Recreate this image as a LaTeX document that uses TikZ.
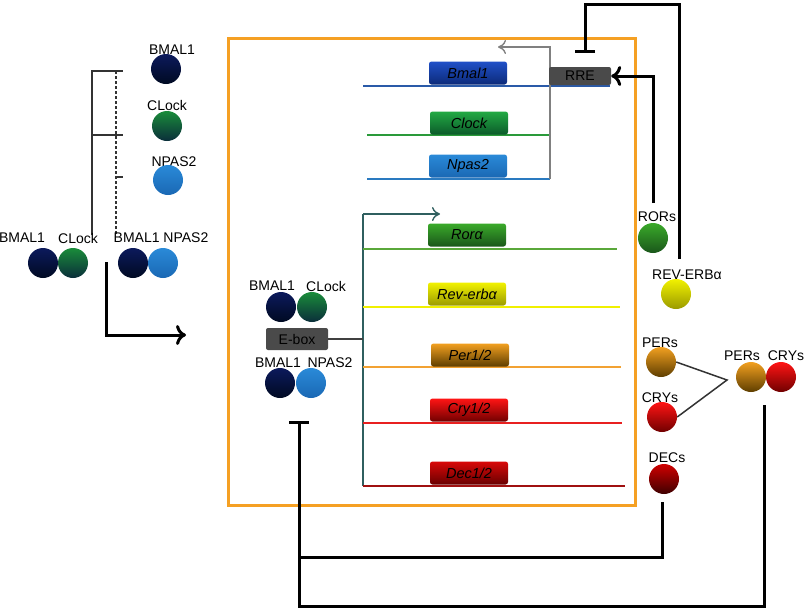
\documentclass[tikz,border=0pt]{standalone}
\usepackage{fontspec}
\setmainfont{Liberation Sans}
\usetikzlibrary{arrows.meta}
\definecolor{boxorange}{HTML}{F5A023}
\definecolor{ebox}{HTML}{4A4A4A}
\definecolor{teal2}{HTML}{2F5F5F}
\definecolor{navyT}{HTML}{0C1A5C}\definecolor{navyB}{HTML}{000A22}
\definecolor{grnT}{HTML}{1A8C3A}\definecolor{grnB}{HTML}{0A2E3A}
\definecolor{bluT}{HTML}{2A8AD8}\definecolor{bluB}{HTML}{1A68B4}
\definecolor{rorT}{HTML}{3AAA2A}\definecolor{rorB}{HTML}{1A561A}
\definecolor{yelT}{HTML}{F2F200}\definecolor{yelB}{HTML}{9A9A00}
\definecolor{perT}{HTML}{F2A020}\definecolor{perB}{HTML}{5E3E00}
\definecolor{cryT}{HTML}{FF1414}\definecolor{cryB}{HTML}{700000}
\definecolor{decT}{HTML}{D00000}\definecolor{decB}{HTML}{3E0000}
\definecolor{gbluT}{HTML}{2050C8}\definecolor{gbluB}{HTML}{0C2A78}
\definecolor{gclkT}{HTML}{22AA44}\definecolor{gclkB}{HTML}{0C5A2A}
\definecolor{gdecT}{HTML}{D80808}\definecolor{gdecB}{HTML}{680000}
\definecolor{lnBmal}{HTML}{2A5AA8}
\definecolor{lnClock}{HTML}{2A9A3A}
\definecolor{lnNpas}{HTML}{2A7AC0}
\definecolor{lnRor}{HTML}{5AA83A}
\definecolor{lnRev}{HTML}{F0F000}
\definecolor{lnPer}{HTML}{F2A232}
\definecolor{lnCry}{HTML}{E82020}
\definecolor{lnDec}{HTML}{A01010}
\tikzset{
  ball/.style={circle, minimum size=30pt, inner sep=0pt},
  lbl/.style={font=\fontsize{14}{14}\selectfont, inner sep=0pt, text=black},
  genebox/.style={rounded corners=2.5pt, minimum width=78pt, minimum height=23pt, inner sep=0pt,
     font=\itshape\fontsize{14.5}{14.5}\selectfont, text=black},
  elembox/.style={rounded corners=2pt, fill=ebox, inner sep=0pt, text=black,
     font=\fontsize{14}{14}\selectfont},
  geneline/.style={line width=2pt},
  thickarrow/.style={line width=3pt, -{To[length=10pt,width=20pt,line width=3pt]}},
  inhib/.style={line width=3pt, -{Bar[width=20pt,line width=3pt]}},
  thick3/.style={line width=3pt},
  grayarrow/.style={line width=1.5pt, gray, -{To[length=8pt,width=14pt,line width=1.4pt]}},
}
\begin{document}
\begin{tikzpicture}[x=1pt,y=-1pt]
\useasboundingbox (0,0) rectangle (811,611);
% orange frame
\draw[boxorange, line width=3pt] (228,38) rectangle (635,505);

% ---- RRE genes ----
\coordinate (bmS) at (363,86); \coordinate (bmE) at (610,86);
\coordinate (clS) at (367,135); \coordinate (clE) at (549,135);
\coordinate (npS) at (367,179); \coordinate (npE) at (550,179);
\draw[geneline, lnBmal] (bmS) -- (bmE);
\draw[geneline, lnClock] (clS) -- (clE);
\draw[geneline, lnNpas] (npS) -- (npE);
\coordinate (rreTip) at (498,47);
\draw[grayarrow] (npE) |- (rreTip);
\node[genebox, top color=gbluT, bottom color=gbluB] (bmal1g) at (468,73) {Bmal1};
\node[genebox, top color=gclkT, bottom color=gclkB] (clockg) at (469,123) {Clock};
\node[genebox, top color=bluT, bottom color=bluB] (npas2g) at (468,166) {Npas2};
\node[elembox, minimum width=62pt, minimum height=18pt] (rre) at (580,76) {RRE};

% ---- E-box genes ----
\coordinate (eTop) at (363,214); \coordinate (eTip) at (440,214); \coordinate (eBot) at (363,486);
\draw[line width=2pt, teal2] (eBot) -- (eTop);
\draw[line width=1.5pt, teal2, -{To[length=8pt,width=14pt,line width=1.4pt]}] (eTop) -- (eTip);
\draw[geneline, lnRor] (363,249) -- (617,249);
\draw[geneline, lnRev] (363,307) -- (620,307);
\draw[geneline, lnPer] (363,367) -- (621,367);
\draw[geneline, lnCry] (363,423) -- (622,423);
\draw[geneline, lnDec] (363,486) -- (625,486);
\node[genebox, top color=rorT, bottom color=rorB] (rorg) at (467,235) {Rorα};
\node[genebox, top color=yelT, bottom color=yelB] (revg) at (467,294) {Rev-erbα};
\node[genebox, top color=perT, bottom color=perB] (perg) at (470,355) {Per1/2};
\node[genebox, top color=cryT, bottom color=cryB] (cryg) at (469,410) {Cry1/2};
\node[genebox, top color=gdecT, bottom color=gdecB] (decg) at (469,473) {Dec1/2};
\node[elembox, minimum width=62pt, minimum height=22pt] (ebox) at (297,339) {E-box};
\coordinate (eMid) at (363,339);
\draw[line width=2pt, black!75] (ebox.east) -- (eMid);

% ---- E-box binders ----
\node[lbl] at (272,286) {BMAL1};
\node[lbl] at (326,286) {CLock};
\node[ball, top color=navyT, bottom color=navyB] (b1a) at (281,307) {};
\node[ball, top color=grnT, bottom color=grnB] (c1a) at (312,307) {};
\node[lbl] at (278,363) {BMAL1};
\node[lbl] at (330,363) {NPAS2};
\node[ball, top color=navyT, bottom color=navyB] (b1b) at (280,383) {};
\node[ball, top color=bluT, bottom color=bluB] (n1b) at (311,383) {};

% ---- left side ----
\node[lbl] at (172,50) {BMAL1};
\node[ball, top color=navyT, bottom color=navyB] (bmalL) at (166,69) {};
\node[lbl] at (167,105) {CLock};
\node[ball, top color=grnT, bottom color=grnB] (clockL) at (167,126) {};
\node[lbl] at (174,162) {NPAS2};
\node[ball, top color=bluT, bottom color=bluB] (npasL) at (168,180) {};
\coordinate (brT) at (92,71); \coordinate (brB) at (92,235);
\coordinate (brT2) at (123,71); \coordinate (brM) at (92,135); \coordinate (brM2) at (123,135);
\coordinate (dT) at (116,71); \coordinate (dB) at (116,235);
\coordinate (dN) at (116,177); \coordinate (dN2) at (123,177);
\draw[line width=1.3pt, black!80] (brB) -- (brT) -- (brT2);
\draw[line width=1.3pt, black!80] (brM) -- (brM2);
\draw[line width=1.3pt, black!80, dash pattern=on 3pt off 2pt] (dT) -- (dB);
\draw[line width=1.3pt, black!80] (dN) -- (dN2);
\node[lbl] at (22,238) {BMAL1};
\node[lbl] at (78,238) {CLock};
\node[ball, top color=navyT, bottom color=navyB] (bL1) at (43,263) {};
\node[ball, top color=grnT, bottom color=grnB] (cL1) at (73,263) {};
\node[lbl] at (161,238) {BMAL1 NPAS2};
\node[ball, top color=navyT, bottom color=navyB] (bL2) at (133,263) {};
\node[ball, top color=bluT, bottom color=bluB] (nL2) at (163,263) {};
\coordinate (arS) at (106,262); \coordinate (arT) at (186,335);
\draw[thickarrow] (arS) |- (arT);

% ---- right side proteins ----
\node[lbl] at (657,217) {RORs};
\node[ball, top color=rorT, bottom color=rorB] (rors) at (653,238) {};
\node[lbl] at (687,275) {REV-ERBα};
\node[ball, top color=yelT, bottom color=yelB] (reverb) at (676,294) {};
\node[lbl] at (660,343) {PERs};
\node[ball, top color=perT, bottom color=perB] (pers) at (661,362) {};
\node[lbl] at (660,398) {CRYs};
\node[ball, top color=cryT, bottom color=cryB] (crys) at (662,417) {};
\node[lbl] at (742,356) {PERs};
\node[lbl] at (786,356) {CRYs};
\node[ball, top color=perT, bottom color=perB] (pc1) at (751,377) {};
\node[ball, top color=cryT, bottom color=cryB] (pc2) at (781,377) {};
\node[lbl] at (667,458) {DECs};
\node[ball, top color=decT, bottom color=decB] (decs) at (664,479) {};
\coordinate (join) at (727,380);
\draw[line width=1.5pt, black!80] (pers.east) -- (join) -- (crys.east);

% ---- feedback connectors ----
\coordinate (rorStart) at (653,203);
\draw[thickarrow] (rorStart) |- (rre.east);
\coordinate (revStart) at (679,259); \coordinate (revTop) at (679,4);
\coordinate (revCorner) at (585,4); \coordinate (revEnd) at (585,53);
\draw[inhib] (revStart) -- (revTop) -- (revCorner) -- (revEnd);
\coordinate (pcStart) at (764,405); \coordinate (pcCorner) at (764,606);
\coordinate (tCorner) at (299,606); \coordinate (tEnd) at (299,421);
\draw[inhib] (pcStart) -- (pcCorner) -- (tCorner) -- (tEnd);
\coordinate (decStart) at (662,502); \coordinate (decJoin) at (299,557);
\draw[thick3] (decStart) |- (decJoin);
\end{tikzpicture}
\end{document}
